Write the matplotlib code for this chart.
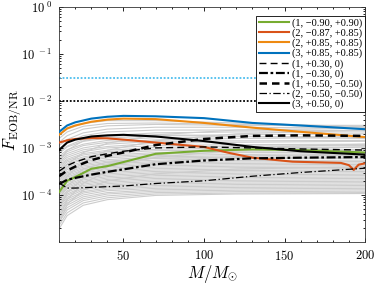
import numpy as np
import matplotlib
matplotlib.use("Agg")
from matplotlib import pyplot as plt
from matplotlib.ticker import FixedLocator, MultipleLocator, FuncFormatter

plt.rcParams['mathtext.fontset'] = 'cm'
plt.rcParams['font.family'] = 'serif'
plt.rcParams['font.serif'] = ['Liberation Serif', 'DejaVu Serif']

M = [10, 15, 20, 30, 40, 50, 70, 100, 130, 160, 200]

F_1_m090_p090 = [1.15e-4, 2.0e-4, 2.4e-4, 3.6e-4, 4.1e-4, 5.0e-4, 7.5e-4, 8.7e-4, 9.3e-4, 9.0e-4, 8.0e-4]
F_3_p085_p085 = [2.2e-3, 3.0e-3, 3.5e-3, 4.2e-3, 4.6e-3, 4.8e-3, 4.7e-3, 4.3e-3, 3.4e-3, 3.0e-3, 2.5e-3]
F_2_p085_p085 = [1.9e-3, 2.6e-3, 3.0e-3, 3.6e-3, 4.0e-3, 4.2e-3, 4.1e-3, 3.4e-3, 2.7e-3, 2.2e-3, 1.7e-3]
F_1_p030_0 = [3.2e-4, 4.2e-4, 5.0e-4, 6.5e-4, 7.5e-4, 8.5e-4, 1.0e-3, 1.05e-3, 1.0e-3, 9.5e-4, 9.0e-4]
F_1_m030_0 = [1.7e-4, 2.1e-4, 2.3e-4, 2.7e-4, 3.1e-4, 3.5e-4, 4.5e-4, 5.4e-4, 6.0e-4, 6.2e-4, 6.4e-4]
F_1_p050_m050 = [2.5e-4, 3.3e-4, 4.0e-4, 5.5e-4, 6.8e-4, 8.0e-4, 1.15e-3, 1.55e-3, 1.8e-3, 1.85e-3, 1.8e-3]
F_2_m050_m050 = [1.8e-4, 1.4e-4, 1.4e-4, 1.45e-4, 1.5e-4, 1.55e-4, 1.75e-4, 2.0e-4, 2.5e-4, 3.0e-4, 3.7e-4]
F_3_p050_0 = [9.0e-4, 1.3e-3, 1.5e-3, 1.75e-3, 1.85e-3, 1.9e-3, 1.75e-3, 1.4e-3, 1.05e-3, 8.5e-4, 7.2e-4]

# (2,-0.87,+0.85) has a small dip near 193 Msun
M_red = [10, 15, 20, 30, 40, 50, 70, 100, 115, 130, 155, 185, 190, 193, 196, 200]
F_2_m087_p085 = [1.3e-3, 1.45e-3, 1.55e-3, 1.62e-3, 1.6e-3, 1.5e-3, 1.3e-3, 1.05e-3, 7.9e-4,
                 6.2e-4, 5.1e-4, 4.8e-4, 4.3e-4, 3.4e-4, 4.4e-4, 4.7e-4]

labels = ['(1, −0.90, +0.90)', '(2, −0.87, +0.85)', '(2, +0.85, +0.85)', '(3, +0.85, +0.85)',
          '(1, +0.30, 0)', '(1, −0.30, 0)', '(1, +0.50, −0.50)', '(2, −0.50, −0.50)', '(3, +0.50, 0)']

# background gray cases, log10 of F read at these masses
M_gray = [10, 15, 25, 40, 70, 120, 200]
gray_log10 = [
    [-2.72, -2.60, -2.48, -2.42, -2.42, -2.47, -2.55],
    [-2.80, -2.66, -2.54, -2.48, -2.47, -2.50, -2.56],
    [-2.88, -2.74, -2.60, -2.53, -2.50, -2.52, -2.52],
    [-2.95, -2.82, -2.68, -2.60, -2.56, -2.56, -2.58],
    [-3.02, -2.88, -2.74, -2.66, -2.62, -2.62, -2.63],
    [-3.08, -2.96, -2.82, -2.74, -2.68, -2.66, -2.66],
    [-3.12, -2.98, -2.86, -2.79, -2.74, -2.72, -2.70],
    [-3.18, -3.04, -2.92, -2.84, -2.78, -2.76, -2.76],
    [-3.22, -3.08, -2.95, -2.88, -2.83, -2.80, -2.78],
    [-3.26, -3.12, -3.00, -2.92, -2.86, -2.85, -2.84],
    [-3.30, -3.16, -3.04, -2.97, -2.90, -2.88, -2.86],
    [-3.33, -3.20, -3.08, -3.00, -2.95, -2.93, -2.92],
    [-3.37, -3.24, -3.12, -3.05, -2.99, -2.96, -2.95],
    [-3.40, -3.27, -3.15, -3.08, -3.03, -3.00, -2.98],
    [-3.44, -3.30, -3.19, -3.11, -3.06, -3.04, -3.03],
    [-3.47, -3.34, -3.22, -3.15, -3.10, -3.07, -3.06],
    [-3.50, -3.36, -3.25, -3.18, -3.13, -3.10, -3.10],
    [-3.54, -3.40, -3.29, -3.21, -3.16, -3.14, -3.12],
    [-3.57, -3.43, -3.32, -3.25, -3.19, -3.17, -3.16],
    [-3.60, -3.46, -3.35, -3.28, -3.22, -3.20, -3.19],
    [-3.64, -3.50, -3.38, -3.31, -3.26, -3.23, -3.22],
    [-3.67, -3.53, -3.41, -3.34, -3.29, -3.27, -3.26],
    [-3.70, -3.56, -3.44, -3.37, -3.32, -3.30, -3.29],
    [-3.74, -3.59, -3.47, -3.40, -3.35, -3.33, -3.32],
    [-3.77, -3.62, -3.50, -3.43, -3.38, -3.36, -3.35],
    [-3.80, -3.65, -3.53, -3.46, -3.41, -3.39, -3.38],
    [-3.84, -3.68, -3.56, -3.49, -3.44, -3.42, -3.41],
    [-3.87, -3.71, -3.59, -3.52, -3.47, -3.45, -3.44],
    [-3.90, -3.74, -3.62, -3.55, -3.50, -3.48, -3.47],
    [-3.94, -3.78, -3.65, -3.58, -3.53, -3.51, -3.50],
    [-3.97, -3.81, -3.68, -3.61, -3.56, -3.54, -3.53],
    [-4.00, -3.84, -3.71, -3.64, -3.59, -3.57, -3.56],
    [-4.04, -3.87, -3.74, -3.67, -3.62, -3.60, -3.59],
    [-4.08, -3.91, -3.77, -3.70, -3.65, -3.63, -3.62],
    [-4.12, -3.94, -3.80, -3.73, -3.68, -3.66, -3.65],
    [-4.16, -3.98, -3.83, -3.76, -3.71, -3.69, -3.68],
    [-4.20, -4.01, -3.86, -3.79, -3.74, -3.72, -3.71],
    [-4.25, -4.05, -3.89, -3.82, -3.77, -3.75, -3.74],
    [-4.30, -4.09, -3.93, -3.85, -3.80, -3.78, -3.77],
    [-4.35, -4.13, -3.96, -3.88, -3.83, -3.81, -3.80],
    [-4.40, -4.17, -4.00, -3.91, -3.86, -3.84, -3.83],
    [-4.46, -4.22, -4.04, -3.95, -3.89, -3.87, -3.86],
    [-4.52, -4.27, -4.08, -3.98, -3.92, -3.90, -3.89],
    [-4.58, -4.32, -4.12, -4.02, -3.95, -3.93, -3.92],
    [-4.65, -4.38, -4.17, -4.06, -3.98, -3.96, -3.95],
    [-4.72, -4.44, -4.22, -4.10, -4.01, -3.98, -3.97],
    [-3.90, -3.60, -3.30, -3.05, -2.85, -2.70, -2.62],
    [-3.60, -3.35, -3.10, -2.90, -2.72, -2.62, -2.58],
    [-4.30, -3.95, -3.65, -3.40, -3.20, -3.05, -2.98],
    [-4.10, -3.80, -3.55, -3.35, -3.15, -3.00, -2.92],
    [-3.30, -3.05, -2.85, -2.75, -2.72, -2.75, -2.80],
    [-4.50, -4.10, -3.75, -3.50, -3.30, -3.18, -3.12],
    [-4.00, -3.70, -3.45, -3.30, -3.22, -3.20, -3.22],
    [-4.60, -4.20, -3.90, -3.70, -3.55, -3.45, -3.40],
]

tol_loose = 0.03
tol_tight = 0.01

fig = plt.figure(figsize=(3.74, 2.86), dpi=100)
ax = fig.add_axes([0.158, 0.154, 0.818, 0.822])

for row in gray_log10:
    ax.plot(M_gray, 10.0 ** np.array(row), color='#cccccc', lw=0.8, zorder=1)

ax.axhline(tol_loose, color='#4DBEEE', lw=1.3, ls=(0, (1, 1)), zorder=2)
ax.axhline(tol_tight, color='black', lw=1.3, ls=(0, (1, 1)), zorder=2)

ax.plot(M, F_1_m090_p090, color='#77AC30', lw=1.5, label=labels[0], zorder=3)
ax.plot(M_red, F_2_m087_p085, color='#D95319', lw=1.5, label=labels[1], zorder=3)
ax.plot(M, F_2_p085_p085, color='#EE8A12', lw=1.5, label=labels[2], zorder=3)
ax.plot(M, F_3_p085_p085, color='#0072BD', lw=1.5, label=labels[3], zorder=3)
ax.plot(M, F_1_p030_0, color='black', lw=1.0, ls=(0, (5, 3)), label=labels[4], zorder=3)
ax.plot(M, F_1_m030_0, color='black', lw=1.6, ls=(0, (4, 1.2, 1.2, 1.2)), label=labels[5], zorder=3)
ax.plot(M, F_1_p050_m050, color='black', lw=1.8, ls=(0, (3, 2)), label=labels[6], zorder=3)
ax.plot(M, F_2_m050_m050, color='black', lw=0.9, ls=(0, (6, 2, 1, 2)), label=labels[7], zorder=3)
ax.plot(M, F_3_p050_0, color='black', lw=1.5, label=labels[8], zorder=3)

ax.set_yscale('log')
ax.set_xlim(10, 200)
ax.set_ylim(1e-5, 1)

ax.set_yticks([1e-4, 1e-3, 1e-2, 1e-1, 1])
ax.yaxis.set_major_formatter(FuncFormatter(lambda v, p: r'$10^{\ %d}$' % round(np.log10(v))))
ax.yaxis.set_minor_locator(FixedLocator([k * 10.0 ** e for e in range(-5, 0) for k in range(2, 10)]))
ax.yaxis.set_minor_formatter(FuncFormatter(lambda v, p: ''))
ax.set_xticks([50, 100, 150, 200])
ax.xaxis.set_major_formatter(FuncFormatter(lambda v, p: r'$%d$' % v))
ax.xaxis.set_minor_locator(MultipleLocator(10))

ax.tick_params(which='both', direction='in', top=True, right=True, labelsize=9, width=0.6)
ax.tick_params(which='major', length=3, pad=5)
ax.tick_params(which='minor', length=1.6)
for s in ax.spines.values():
    s.set_linewidth(0.6)
    s.set_color('#333333')

ax.set_xlabel(r'$M/M_{\odot}$', fontsize=12, labelpad=0)
ax.set_ylabel(r'$\bar{F}_{\rm EOB/NR}$', fontsize=12)
ax.yaxis.set_label_coords(-0.118, 0.52)

leg = ax.legend(loc='upper right', bbox_to_anchor=(1.0, 0.962), borderaxespad=0,
                fontsize=7.5, handlelength=2.9, handletextpad=0.3, labelspacing=0.05,
                borderpad=0.25, fancybox=False, framealpha=1, edgecolor='black')
leg.get_frame().set_linewidth(0.6)

fig.savefig('out.png', dpi=100)
